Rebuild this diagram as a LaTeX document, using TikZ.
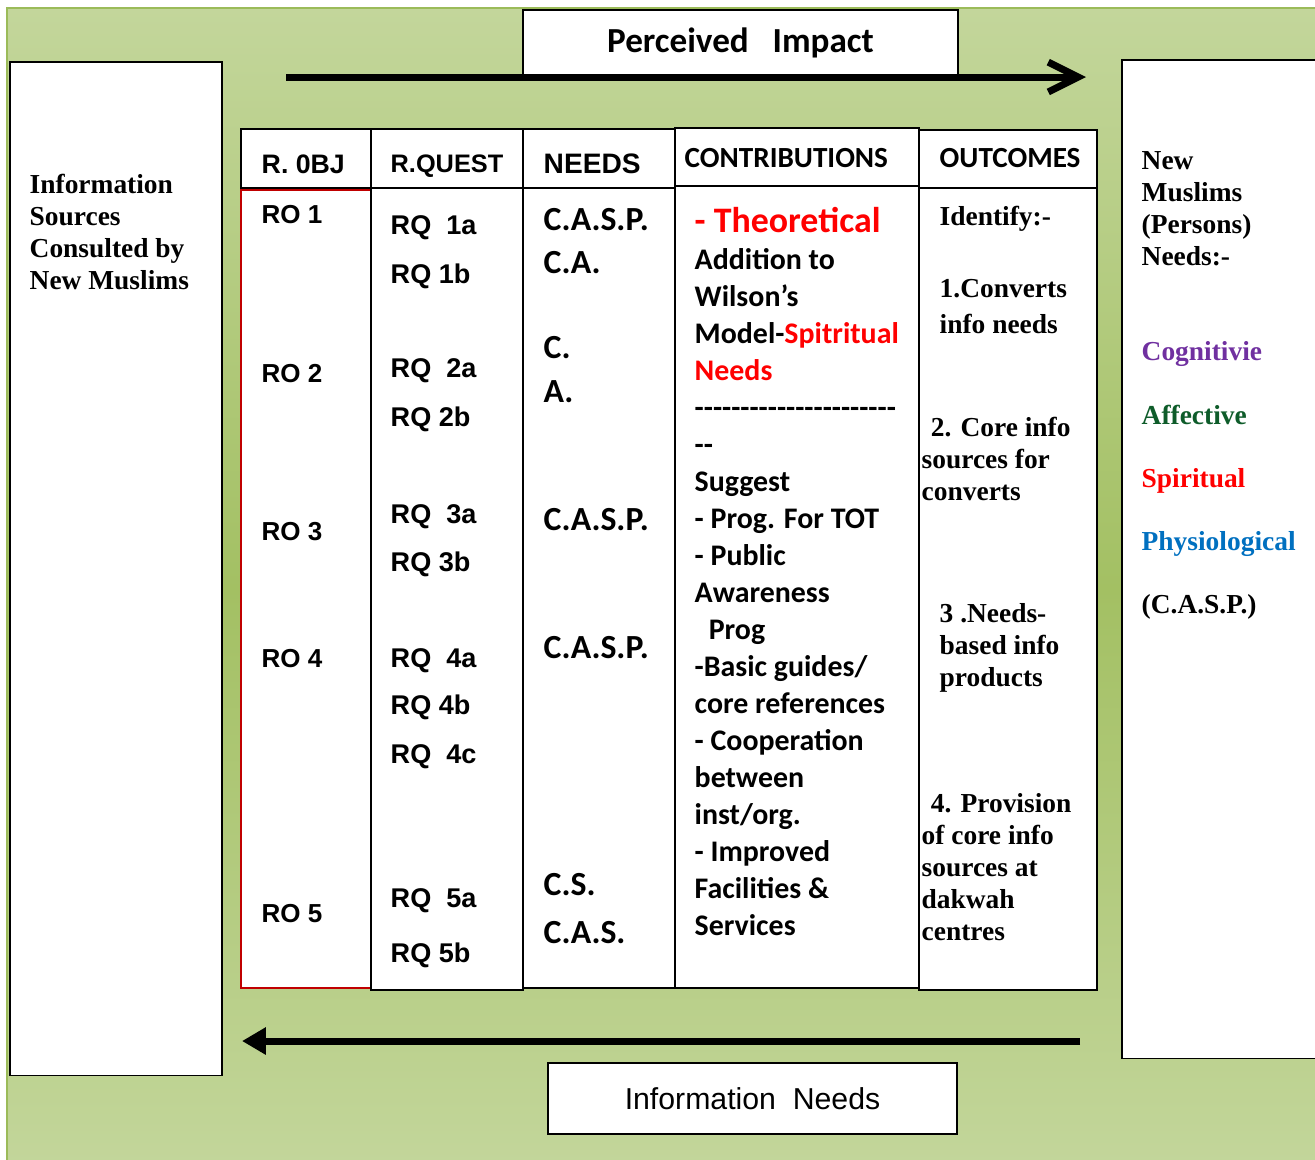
\documentclass[tikz,border=0pt]{standalone}
\usepackage{fontspec}
\usepackage{tikz}
\usetikzlibrary{arrows.meta}
\newfontfamily\arialfont{Liberation Sans}
\newfontfamily\calfont{Carlito}
\newfontfamily\timesfont{Liberation Serif}
\definecolor{bglight}{HTML}{C3D69B}
\definecolor{bgdark}{HTML}{A3C063}
\definecolor{bgedge}{HTML}{9BBB59}
\definecolor{rowred}{HTML}{C00000}
\definecolor{txtred}{HTML}{FF0000}
\definecolor{cogpurple}{HTML}{7030A0}
\definecolor{affgreen}{HTML}{0E5C2A}
\definecolor{phyblue}{HTML}{0070C0}
\tikzstyle{box}=[draw, fill=white, line width=0.45pt, inner sep=0pt]
\tikzstyle{cell}=[draw, fill=white, line width=0.6pt]
\tikzstyle{hdr}=[anchor=base west, inner sep=0pt, font=\arialfont\bfseries\fontsize{7.6}{9}\selectfont]
\tikzstyle{hdrc}=[anchor=base west, inner sep=0pt, font=\calfont\bfseries\fontsize{8.3}{10}\selectfont]
\tikzstyle{rotxt}=[anchor=base west, inner sep=0pt, font=\arialfont\bfseries\fontsize{7.4}{9}\selectfont]
\tikzstyle{rqtxt}=[anchor=base west, inner sep=0pt, font=\arialfont\bfseries\fontsize{7.7}{9}\selectfont]
\tikzstyle{caltxt}=[anchor=base west, inner sep=0pt, align=left, font=\calfont\bfseries\fontsize{8.5}{10.52}\selectfont]
\tikzstyle{tmstxt}=[anchor=base west, inner sep=0pt, align=left, font=\timesfont\bfseries\fontsize{7.8}{9.05}\selectfont]
\tikzstyle{flow}=[line width=2pt]
\newcommand{\dashrow}[1]{\foreach \k in {1,...,#1}{\mbox{-}}}

\begin{document}
\begin{tikzpicture}[x=0.01cm, y=-0.01cm]
        \useasboundingbox (0,0) rectangle (1315,1159);
        \path[top color=bglight, bottom color=bglight, middle color=bgdark] (7,8) rectangle (1330,1170);
        \draw[bgedge, line width=0.6pt] (1330,8) -- (7,8) -- (7,1170);

        \node[box, minimum width=2.12cm, minimum height=10.13cm] (srcbox) at (116,568.5) {};
        \node[box, minimum width=2.1cm, minimum height=9.98cm] (needbox) at (1227,559) {};
        \node[box, minimum width=4.35cm, minimum height=0.65cm,
            font=\calfont\bfseries\fontsize{10}{12}\selectfont] (impact) at (740.5,42.5) {Perceived\ \ \ Impact};
        \node[box, minimum width=4.09cm, minimum height=0.71cm,
            font=\arialfont\fontsize{8.6}{10}\selectfont] (inneeds) at (752.5,1098.5) {Information\ \ Needs};

        \coordinate (pistart) at (286,77);
        \coordinate (piend) at (1086,77);
        \draw[flow, -{Straight Barb[length=8.5pt, width=8.5pt]}] (pistart) -- (piend);
        \coordinate (instart) at (1080,1041);
        \coordinate (inend) at (242,1041);
        \draw[flow, -{Triangle[length=6.8pt, width=7.4pt]}] (instart) -- (inend);

        \fill[white] (241,188) rectangle (371,988);
        \draw[rowred, line width=0.6pt] (371,189.5) -- (241,189.5) -- (241,988) -- (371,988);
        \draw[cell] (241,129) rectangle (371,188);
        \draw[cell] (371,129) rectangle (523,188);
        \draw[cell] (371,188) rectangle (523,990);
        \draw[cell] (523,129) rectangle (675,188);
        \draw[cell] (523,188) rectangle (675,988);
        \draw[cell] (675,128) rectangle (919,186);
        \draw[cell] (675,186) rectangle (919,988);
        \draw[cell] (919,130) rectangle (1097,188);
        \draw[cell] (919,188) rectangle (1097,990);

        \node[hdr] (hobj) at (261,173) {R. 0BJ};
        \node[hdr, font=\arialfont\bfseries\fontsize{7.2}{9}\selectfont] (hquest) at (390,172) {R.QUEST};
        \node[hdr, font=\arialfont\bfseries\fontsize{8}{9}\selectfont] (hneeds) at (543,173) {NEEDS};
        \node[hdrc] (hcontr) at (684,167) {CONTRIBUTIONS};
        \node[hdrc] (houtc) at (939,167) {OUTCOMES};

        \foreach \y [count=\i] in {223,382,540,667,922}
            \node[rotxt] (ro\i) at (261,\y) {RO \i};
        \foreach \y/\t [count=\i] in {234/RQ\ \ 1a, 283/RQ 1b, 377/RQ\ \ 2a, 426/RQ 2b, 523/RQ\ \ 3a,
            571/RQ 3b, 667/RQ\ \ 4a, 714/RQ 4b, 763/RQ\ \ 4c, 907/RQ\ \ 5a, 962/RQ 5b}
            \node[rqtxt] (rq\i) at (390,\y) {\t};
        \foreach \y/\t [count=\i] in {230/C.A.S.P., 273/C.A., 358/C., 402/A., 530/C.A.S.P.,
            658/C.A.S.P., 895/C.S., 943/C.A.S.}
            \node[caltxt, font=\calfont\bfseries\fontsize{9.6}{10.5}\selectfont] (nd\i) at (543,\y) {\t};

        \node[caltxt] (contr) at (694,935) {{\fontsize{10.2}{10.5}\selectfont\color{txtred}- Theoretical}\\
            Addition to\\
            Wilson’s\\
            Model-{\color{txtred}Spitritual}\\
            {\color{txtred}Needs}\\
            \dashrow{22}\\
            \mbox{-}\mbox{-}\\
            Suggest\\
            - Prog. For TOT\\
            - Public\\
            Awareness\\
            \hspace*{4pt}Prog\\
            -Basic guides/\\
            core references\\
            - Cooperation\\
            between\\
            inst/org.\\
            - Improved\\
            Facilities \&\\
            Services};

        \node[tmstxt] (oc0) at (939,225) {Identify:-};
        \node[tmstxt] (oc1) at (939,333) {1.Converts\\[1pt]info needs};
        \node[tmstxt] (oc2) at (921,500) {\hspace*{2.6pt}2. Core info\\sources for\\converts};
        \node[tmstxt] (oc3) at (939,686) {3 .Needs-\\based info\\products};
        \node[tmstxt] (oc4) at (921,940) {\hspace*{2.6pt}4. Provision\\of core info\\sources at\\dakwah\\centres};

        \node[tmstxt] (srctxt) at (29,289) {Information\\Sources\\Consulted by\\New Muslims};
        \node[tmstxt] (needtxt) at (1141,265) {New\\Muslims\\(Persons)\\Needs:-};
        \node[tmstxt, text=cogpurple] (cog) at (1141,360) {Cognitivie};
        \node[tmstxt, text=affgreen] (aff) at (1141,424) {Affective};
        \node[tmstxt, text=txtred] (spi) at (1141,487) {Spiritual};
        \node[tmstxt, text=phyblue] (phy) at (1141,550) {Physiological};
        \node[tmstxt] (casp) at (1141,613) {(C.A.S.P.)};
    \end{tikzpicture}
\end{document}
